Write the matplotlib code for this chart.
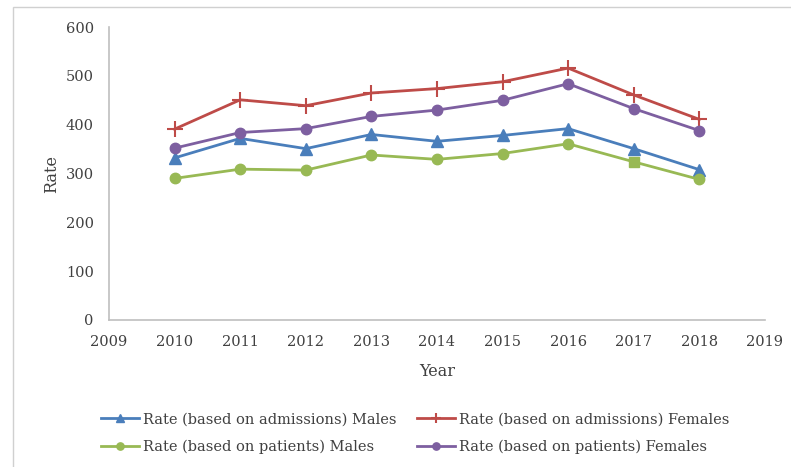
'''
Admission and patient rates by sex, 2010-2018
'''

import matplotlib
matplotlib.use('Agg')
import matplotlib.pyplot as plt
from matplotlib.patches import Rectangle

years = [2010, 2011, 2012, 2013, 2014, 2015, 2016, 2017, 2018]
adm_males = [332, 372, 351, 380, 366, 378, 392, 351, 308]
adm_females = [391, 451, 439, 465, 474, 488, 516, 461, 411]
pat_males = [290, 309, 307, 338, 329, 341, 361, 324, 288]
pat_females = [352, 384, 392, 417, 430, 450, 484, 433, 388]

plt.rcParams['font.family'] = ['DejaVu Serif']
TEXT = '#404040'

fig = plt.figure(figsize=(7.91, 4.67), dpi=100)
ax = fig.add_axes([0.1378, 0.3148, 0.967 - 0.1378, 0.942 - 0.3148])

# thin grey frame round the whole chart
fig.patches.append(Rectangle((0.016, -0.01), 0.99, 0.995, transform=fig.transFigure,
                             fill=False, edgecolor='#d0d0d0', linewidth=1))

l1, = ax.plot(years, adm_males, color='#4a7ebb', marker='^', markersize=8.5,
              linewidth=2, label='Rate (based on admissions) Males')
l2, = ax.plot(years, adm_females, color='#be4b48', marker='+', markersize=11,
              markeredgewidth=1.5, linewidth=2, label='Rate (based on admissions) Females')
keep = [i for i in range(len(years)) if i != 7]
l3, = ax.plot(years, pat_males, color='#98b954', marker='o', markersize=7.5,
              markevery=keep, linewidth=2, label='Rate (based on patients) Males')
ax.plot(years[7], pat_males[7], color='#98b954', marker='s', markersize=7.5,
        linestyle='none')
l4, = ax.plot(years, pat_females, color='#7d5fa0', marker='o', markersize=7.5,
              linewidth=2, label='Rate (based on patients) Females')

ax.set_xlim(2009, 2019)
ax.set_ylim(0, 600)
ax.set_xticks(range(2009, 2020))
ax.set_yticks(range(0, 700, 100))
ax.tick_params(length=0, labelsize=10.5, colors=TEXT, pad=11)
for side in ['top', 'right']:
    ax.spines[side].set_visible(False)
for side in ['left', 'bottom']:
    ax.spines[side].set_color('#bfbfbf')
    ax.spines[side].set_linewidth(1.2)

ax.set_xlabel('Year', fontsize=11.5, color=TEXT, labelpad=10)
ax.set_ylabel('Rate', fontsize=11.5, color=TEXT, labelpad=4)

# legend rows: admissions on top, patients below
fig.legend([l1, l3, l2, l4], [h.get_label() for h in [l1, l3, l2, l4]],
           loc='center', bbox_to_anchor=(0.525, 0.072), ncol=2,
           frameon=False, fontsize=10.5, handlelength=2.6, columnspacing=1.4,
           labelspacing=0.95, labelcolor=TEXT, handletextpad=0.3,
           markerscale=0.7)

fig.savefig('out.png', dpi=100)
